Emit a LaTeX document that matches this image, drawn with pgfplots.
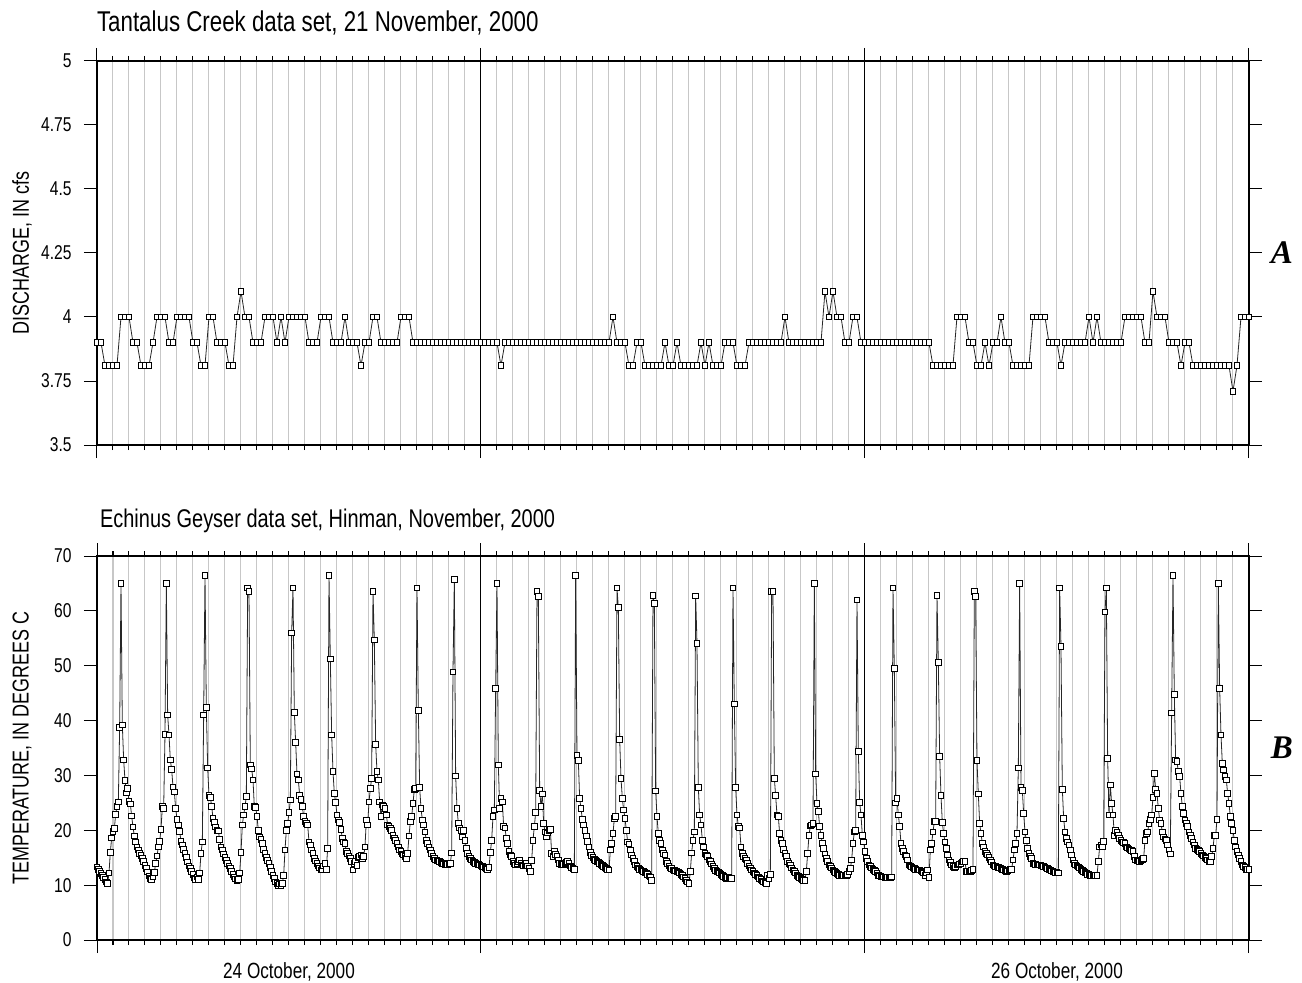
\documentclass[border=0pt]{standalone}
\usepackage{pgfplots}
\pgfplotsset{compat=1.18}
\usepackage{pgfplotstable}
\usepackage{fontspec}
\setmainfont{Liberation Sans}[FakeStretch=0.78]
\newfontfamily\panelfont{Liberation Serif}

% Tantalus Creek discharge, cfs, one value every 15 minutes (0 to 72 h)
\pgfplotstableread[row sep=\\]{Q\\
3.9\\3.9\\3.81\\3.81\\3.81\\3.81\\4.0\\4.0\\4.0\\3.9\\
3.9\\3.81\\3.81\\3.81\\3.9\\4.0\\4.0\\4.0\\3.9\\3.9\\
4.0\\4.0\\4.0\\4.0\\3.9\\3.9\\3.81\\3.81\\4.0\\4.0\\
3.9\\3.9\\3.9\\3.81\\3.81\\4.0\\4.1\\4.0\\4.0\\3.9\\
3.9\\3.9\\4.0\\4.0\\4.0\\3.9\\4.0\\3.9\\4.0\\4.0\\
4.0\\4.0\\4.0\\3.9\\3.9\\3.9\\4.0\\4.0\\4.0\\3.9\\
3.9\\3.9\\4.0\\3.9\\3.9\\3.9\\3.81\\3.9\\3.9\\4.0\\
4.0\\3.9\\3.9\\3.9\\3.9\\3.9\\4.0\\4.0\\4.0\\3.9\\
3.9\\3.9\\3.9\\3.9\\3.9\\3.9\\3.9\\3.9\\3.9\\3.9\\
3.9\\3.9\\3.9\\3.9\\3.9\\3.9\\3.9\\3.9\\3.9\\3.9\\
3.9\\3.81\\3.9\\3.9\\3.9\\3.9\\3.9\\3.9\\3.9\\3.9\\
3.9\\3.9\\3.9\\3.9\\3.9\\3.9\\3.9\\3.9\\3.9\\3.9\\
3.9\\3.9\\3.9\\3.9\\3.9\\3.9\\3.9\\3.9\\3.9\\4.0\\
3.9\\3.9\\3.9\\3.81\\3.81\\3.9\\3.9\\3.81\\3.81\\3.81\\
3.81\\3.81\\3.9\\3.81\\3.81\\3.9\\3.81\\3.81\\3.81\\3.81\\
3.81\\3.9\\3.81\\3.9\\3.81\\3.81\\3.81\\3.9\\3.9\\3.9\\
3.81\\3.81\\3.81\\3.9\\3.9\\3.9\\3.9\\3.9\\3.9\\3.9\\
3.9\\3.9\\4.0\\3.9\\3.9\\3.9\\3.9\\3.9\\3.9\\3.9\\
3.9\\3.9\\4.1\\4.0\\4.1\\4.0\\4.0\\3.9\\3.9\\4.0\\
4.0\\3.9\\3.9\\3.9\\3.9\\3.9\\3.9\\3.9\\3.9\\3.9\\
3.9\\3.9\\3.9\\3.9\\3.9\\3.9\\3.9\\3.9\\3.9\\3.81\\
3.81\\3.81\\3.81\\3.81\\3.81\\4.0\\4.0\\4.0\\3.9\\3.9\\
3.81\\3.81\\3.9\\3.81\\3.9\\3.9\\4.0\\3.9\\3.9\\3.81\\
3.81\\3.81\\3.81\\3.81\\4.0\\4.0\\4.0\\4.0\\3.9\\3.9\\
3.9\\3.81\\3.9\\3.9\\3.9\\3.9\\3.9\\3.9\\4.0\\3.9\\
4.0\\3.9\\3.9\\3.9\\3.9\\3.9\\3.9\\4.0\\4.0\\4.0\\
4.0\\4.0\\3.9\\3.9\\4.1\\4.0\\4.0\\4.0\\3.9\\3.9\\
3.9\\3.81\\3.9\\3.9\\3.81\\3.81\\3.81\\3.81\\3.81\\3.81\\
3.81\\3.81\\3.81\\3.81\\3.71\\3.81\\4.0\\4.0\\4.0\\
}\discharge

% Echinus Geyser water temperature, degrees C, one value every 5 minutes (0 to 72 h)
\pgfplotstableread[row sep=\\]{T\\
13.3\\12.9\\12.5\\12.1\\11.8\\11.4\\11.0\\10.6\\10.3\\12.2\\
16.0\\18.6\\19.8\\20.3\\22.9\\24.4\\25.2\\38.8\\65.0\\39.2\\
32.8\\29.1\\26.8\\27.6\\25.3\\24.8\\22.6\\20.6\\19.0\\17.9\\
17.0\\16.4\\15.8\\15.4\\14.9\\14.3\\13.6\\13.0\\12.4\\11.7\\
11.2\\11.0\\11.5\\12.3\\14.0\\15.3\\17.0\\18.0\\20.2\\24.3\\
24.0\\37.5\\65.0\\41.0\\37.4\\32.8\\31.1\\27.9\\27.0\\24.0\\
22.0\\21.0\\19.8\\18.0\\17.3\\16.5\\15.8\\15.0\\14.2\\13.5\\
13.0\\12.5\\12.0\\11.3\\11.0\\11.5\\11.0\\12.2\\15.8\\17.9\\
41.0\\66.5\\42.4\\31.4\\26.3\\26.0\\24.4\\22.2\\21.4\\20.6\\
20.0\\19.9\\18.3\\17.0\\16.4\\15.7\\15.0\\14.5\\14.0\\13.5\\
13.0\\12.5\\12.0\\11.5\\11.1\\10.9\\11.0\\12.2\\16.0\\21.0\\
22.8\\24.3\\26.2\\64.2\\63.5\\31.9\\31.2\\29.2\\24.3\\24.2\\
22.5\\20.0\\18.8\\18.3\\17.6\\16.5\\15.8\\15.0\\14.5\\14.0\\
13.2\\12.5\\11.8\\11.2\\10.6\\10.3\\9.9\\10.2\\10.0\\10.3\\
11.8\\16.4\\20.0\\21.3\\23.2\\25.5\\56.0\\64.2\\41.5\\36.0\\
30.3\\29.2\\26.4\\25.6\\24.3\\22.5\\21.6\\21.3\\21.0\\17.9\\
17.3\\16.4\\15.8\\14.9\\14.4\\14.0\\13.5\\13.1\\12.8\\12.9\\
13.5\\14.0\\12.9\\16.7\\66.5\\51.2\\37.4\\30.7\\26.7\\25.1\\
22.8\\21.9\\21.4\\20.2\\18.5\\17.9\\17.6\\16.1\\15.8\\15.3\\
14.9\\14.3\\12.8\\14.0\\14.3\\13.6\\15.0\\15.2\\15.5\\14.9\\
15.2\\17.0\\21.9\\21.0\\25.2\\27.6\\29.5\\63.5\\54.7\\35.7\\
30.7\\29.2\\25.2\\22.5\\24.6\\24.3\\24.0\\22.8\\21.0\\20.7\\
20.3\\20.0\\19.1\\18.6\\18.2\\17.6\\17.0\\16.4\\16.1\\15.7\\
15.5\\15.2\\14.9\\15.8\\19.0\\21.6\\22.5\\24.9\\27.5\\27.6\\
64.2\\41.9\\27.8\\24.0\\21.9\\21.0\\19.7\\18.2\\17.6\\17.0\\
16.4\\15.8\\15.2\\14.9\\14.6\\14.5\\14.4\\14.3\\14.1\\14.0\\
13.9\\13.8\\13.7\\13.8\\14.0\\14.0\\15.9\\48.9\\65.7\\29.9\\
24.0\\21.3\\20.4\\20.0\\18.8\\20.0\\18.2\\16.7\\15.8\\15.2\\
14.9\\14.6\\14.3\\14.1\\14.0\\13.9\\13.8\\13.7\\13.5\\13.4\\
13.3\\13.1\\13.0\\12.9\\13.2\\16.0\\18.2\\22.5\\23.7\\45.9\\
65.0\\31.9\\24.0\\25.8\\25.2\\20.7\\20.4\\18.5\\17.6\\16.1\\
15.5\\15.2\\14.3\\14.0\\13.7\\13.9\\14.2\\14.6\\14.0\\13.7\\
13.5\\13.8\\14.0\\13.5\\13.0\\12.5\\14.5\\18.2\\20.7\\23.2\\
63.5\\62.6\\27.3\\24.3\\26.6\\21.3\\19.7\\18.8\\19.5\\20.0\\
20.1\\15.8\\15.2\\16.1\\15.6\\15.2\\14.6\\14.0\\13.8\\13.7\\
13.8\\14.0\\14.1\\14.3\\14.0\\13.5\\13.2\\13.0\\12.9\\66.5\\
33.6\\32.7\\25.8\\24.0\\22.0\\21.0\\20.0\\19.0\\18.0\\17.0\\
16.0\\15.4\\15.0\\14.7\\14.5\\14.3\\14.2\\14.0\\13.8\\13.6\\
13.4\\13.2\\13.0\\12.9\\12.8\\16.4\\17.6\\19.4\\22.2\\22.5\\
64.2\\60.6\\36.6\\29.5\\25.8\\23.7\\22.2\\20.0\\17.9\\17.5\\
16.4\\15.5\\14.9\\14.3\\13.7\\13.4\\13.1\\12.9\\12.8\\12.6\\
12.5\\12.3\\12.2\\11.9\\11.7\\11.5\\10.9\\62.8\\61.4\\27.2\\
22.5\\19.4\\18.2\\17.6\\16.4\\15.8\\15.5\\14.3\\14.0\\13.5\\
13.1\\13.0\\12.8\\12.7\\12.6\\12.5\\12.4\\12.2\\12.0\\11.8\\
11.5\\11.2\\10.9\\10.6\\10.3\\12.5\\15.9\\18.2\\19.7\\62.7\\
54.1\\27.8\\22.8\\21.0\\18.2\\17.0\\15.8\\15.5\\15.2\\14.6\\
14.3\\13.9\\13.4\\13.0\\12.7\\12.5\\12.4\\12.2\\12.0\\11.8\\
11.6\\11.4\\11.2\\11.4\\11.5\\11.3\\11.2\\64.2\\43.0\\27.8\\
22.8\\20.7\\20.4\\17.0\\15.8\\15.2\\14.9\\14.6\\14.0\\13.5\\
13.1\\12.8\\12.5\\12.2\\12.0\\11.8\\11.5\\11.2\\11.0\\10.8\\
10.6\\10.4\\10.3\\11.8\\11.2\\12.0\\63.5\\63.5\\29.5\\26.3\\
22.8\\22.5\\19.4\\18.2\\17.6\\16.5\\15.8\\15.2\\14.3\\14.0\\
13.7\\13.1\\12.8\\12.5\\12.2\\11.8\\11.6\\11.4\\11.2\\11.0\\
10.9\\10.9\\12.5\\15.8\\19.1\\20.8\\21.0\\21.2\\65.0\\30.3\\
24.9\\23.4\\20.7\\19.1\\17.6\\16.7\\15.7\\14.9\\14.3\\13.7\\
13.4\\13.1\\12.8\\12.5\\12.3\\12.1\\11.9\\11.8\\11.8\\11.8\\
11.8\\11.8\\11.8\\12.0\\12.5\\13.0\\14.6\\17.6\\19.7\\20.0\\
62.0\\34.4\\25.1\\22.8\\19.1\\17.9\\16.1\\14.9\\14.3\\13.7\\
13.4\\13.1\\12.9\\12.7\\12.5\\12.2\\11.8\\11.7\\11.6\\11.5\\
11.5\\11.4\\11.4\\11.4\\11.3\\11.4\\11.5\\64.2\\49.5\\25.0\\
25.8\\22.8\\20.7\\17.6\\16.7\\16.1\\15.5\\15.2\\14.6\\13.7\\
13.5\\13.3\\13.1\\13.0\\12.9\\12.8\\12.8\\12.8\\12.6\\12.4\\
12.2\\11.8\\12.3\\12.8\\11.4\\16.4\\17.6\\19.7\\21.6\\21.6\\
62.8\\50.6\\33.5\\26.3\\21.4\\19.4\\17.9\\16.7\\15.5\\14.6\\
14.1\\13.7\\13.4\\13.1\\13.4\\13.7\\13.7\\13.9\\14.0\\14.2\\
14.3\\14.3\\12.5\\12.5\\12.5\\12.5\\12.7\\12.9\\63.5\\62.6\\
32.7\\26.6\\21.3\\19.4\\17.6\\17.0\\16.1\\15.8\\15.5\\15.0\\
14.6\\14.2\\13.7\\13.5\\13.4\\13.3\\13.2\\13.1\\13.0\\12.9\\
12.8\\12.6\\12.5\\12.6\\12.8\\12.9\\12.9\\14.6\\16.4\\17.6\\
19.4\\31.4\\65.0\\27.8\\27.3\\23.1\\19.7\\18.2\\16.7\\15.8\\
15.2\\14.9\\14.0\\13.9\\13.8\\13.7\\13.7\\13.7\\13.6\\13.5\\
13.4\\13.3\\13.1\\13.0\\12.9\\12.8\\12.6\\12.5\\12.4\\12.3\\
12.3\\12.2\\64.2\\53.5\\27.5\\22.2\\19.7\\18.5\\17.9\\17.3\\
16.4\\15.5\\14.6\\14.0\\13.7\\13.5\\13.3\\13.1\\12.9\\12.7\\
12.5\\12.3\\12.2\\12.0\\11.9\\11.8\\11.8\\11.7\\11.7\\11.8\\
11.8\\14.3\\17.0\\17.3\\17.0\\18.0\\59.8\\64.2\\33.1\\22.8\\
28.3\\24.9\\22.8\\19.1\\20.0\\19.6\\19.1\\18.5\\18.2\\17.9\\
17.8\\17.6\\17.0\\16.8\\16.6\\16.4\\16.3\\16.1\\15.2\\14.6\\
14.5\\14.4\\14.3\\14.5\\14.7\\14.9\\18.2\\19.4\\19.7\\21.3\\
22.0\\22.8\\26.0\\30.4\\27.5\\26.7\\24.0\\21.9\\21.3\\19.7\\
18.8\\18.4\\18.2\\17.3\\16.4\\15.7\\41.4\\66.5\\44.8\\32.8\\
32.5\\30.7\\29.8\\26.7\\24.3\\23.1\\21.9\\21.3\\20.7\\19.7\\
19.1\\18.5\\17.9\\17.3\\16.7\\16.5\\16.3\\16.1\\15.8\\15.5\\
15.3\\15.1\\14.9\\14.6\\14.3\\14.3\\15.2\\16.7\\19.1\\19.1\\
22.0\\65.0\\45.9\\37.4\\32.2\\31.0\\29.8\\29.2\\26.7\\24.9\\
22.5\\21.3\\20.0\\18.2\\17.0\\16.1\\15.5\\14.9\\14.3\\13.7\\
13.4\\13.2\\12.9\\12.9\\12.9\\
}\temperature

\pgfplotsset{
  panel/.style={
    scale only axis, width=576pt, height=192pt,
    xmin=0, xmax=72,
    xtick={0,24,48,72}, xticklabels={},
    minor x tick num=23,
    tick align=outside,
    major tick length=6.5pt, minor tick length=2.5pt,
    xmajorgrids, xminorgrids,
    major grid style={black, line width=0.5pt},
    minor grid style={black!22, line width=0.5pt},
    axis line style={line width=0.6pt},
    every tick/.style={black, line width=0.5pt},
    yticklabel pos=left,
    /pgf/number format/assume math mode=true,
    tick label style={font=\fontsize{10}{12}\selectfont},
    yticklabel style={xshift=-2.7pt},
    every axis y label/.style={at={(rel axis cs:-0.0651,0.5)}, anchor=center, rotate=90,
      font=\fontsize{11.5}{13}\selectfont},
    clip=false,
  },
  record/.style={black!85, line width=0.4pt, mark=square*, mark size=1.4pt,
    mark options={fill=white, draw=black, line width=0.45pt, solid}},
}

\begin{document}
\begin{tikzpicture}
\path[use as bounding box] (-48.5pt,-21pt) rectangle (602.5pt,470pt);

% A: stream discharge
\begin{axis}[panel, at={(0,247.5pt)}, anchor=south west,
  ymin=3.5, ymax=5,
  ytick={3.5,3.75,4,4.25,4.5,4.75,5},
  yticklabels={3.5,3.75,4,4.25,4.5,4.75,5},
  ylabel={DISCHARGE, IN cfs}]
  \addplot[record] table[x expr=\coordindex/4, y=Q] {\discharge};
  \node[anchor=base west, font=\fontsize{14.3}{16}\selectfont, xshift=-3.5pt, yshift=14.5pt]
    at (rel axis cs:0,1) {Tantalus Creek data set, 21 November, 2000};
  \node[font=\panelfont\bfseries\itshape\fontsize{16.5}{18}\selectfont]
    at (rel axis cs:1.0286,0.5) {A};
\end{axis}

% B: geyser water temperature
\begin{axis}[panel, at={(0,0)}, anchor=south west,
  ymin=0, ymax=70,
  ytick={0,10,...,70},
  ylabel={TEMPERATURE, IN DEGREES C}]
  \addplot[record] table[x expr=\coordindex/12, y=T] {\temperature};
  \node[anchor=base west, font=\fontsize{12.8}{15}\selectfont, xshift=-2pt, yshift=14.5pt]
    at (rel axis cs:0,1) {Echinus Geyser data set, Hinman, November, 2000};
  \node[anchor=base, font=\fontsize{11}{13}\selectfont, yshift=-19pt]
    at (axis cs:12,0) {24 October, 2000};
  \node[anchor=base, font=\fontsize{11}{13}\selectfont, yshift=-19pt]
    at (axis cs:60,0) {26 October, 2000};
  \node[font=\panelfont\bfseries\itshape\fontsize{16.5}{18}\selectfont]
    at (rel axis cs:1.0286,0.5) {B};
\end{axis}
\end{tikzpicture}
\end{document}
